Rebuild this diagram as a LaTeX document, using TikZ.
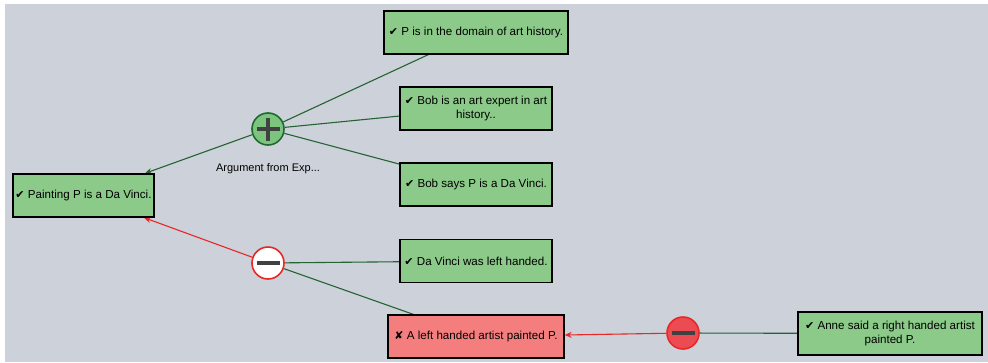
\documentclass[tikz,border=0pt]{standalone}
\usepackage{fontspec}
\setmainfont{Liberation Sans}
\newfontfamily\tickfont{DejaVu Sans}
\usetikzlibrary{arrows.meta, backgrounds}
\definecolor{bgGray}{HTML}{CDD1D9}
\definecolor{okFill}{HTML}{8BCA88}
\definecolor{badFill}{HTML}{F47E7E}
\definecolor{proLine}{HTML}{256332}
\definecolor{conLine}{HTML}{E82828}
\definecolor{proFill}{HTML}{7DC47E}
\definecolor{proBorder}{HTML}{1F6A30}
\definecolor{signGray}{HTML}{3F4143}
\definecolor{undercutFill}{HTML}{EC4B52}
\newcommand{\okmark}{{\tickfont\fontsize{11}{12}\selectfont ✔}\ }
\newcommand{\nomark}{{\tickfont\fontsize{11}{12}\selectfont ✘}\ }
\begin{document}
\begin{tikzpicture}[x=1pt, y=-1pt,
    claim/.style={draw=black, line width=1.3pt, fill=okFill, minimum height=43pt,
      inner sep=2pt, align=center, font=\fontsize{11.6}{14.5}\selectfont},
    claimno/.style={claim, fill=badFill},
    sign/.style={circle, line width=1.6pt, minimum size=32pt, inner sep=0pt},
    pro/.style={sign, draw=proBorder, fill=proFill,
      path picture={\draw[signGray, line width=3.8pt]
        ([xshift=-11.5pt]path picture bounding box.center) -- ([xshift=11.5pt]path picture bounding box.center)
        ([yshift=-11.5pt]path picture bounding box.center) -- ([yshift=11.5pt]path picture bounding box.center);}},
    con/.style={sign, draw=conLine, fill=white,
      path picture={\draw[signGray, line width=3.8pt]
        ([xshift=-11.5pt]path picture bounding box.center) -- ([xshift=11.5pt]path picture bounding box.center);}},
    undercut/.style={con, fill=undercutFill},
    prem/.style={proLine, line width=1.1pt},
    toconc/.style={line width=1.1pt, -{Stealth[length=7pt, width=6pt]}}]
  \useasboundingbox (0,0) rectangle (988,362);

  % Claims
  \node[claim, minimum width=141pt] (painting) at (83.5,195.5) {\okmark Painting P is a Da Vinci.};
  \node[claim, minimum width=184pt] (domain) at (476,32.5) {\okmark P is in the domain of art history.};
  \node[claim, minimum width=152pt] (expert) at (476,108.5) {\okmark Bob is an art expert in art\\history..};
  \node[claim, minimum width=152pt] (says) at (476,184.5) {\okmark Bob says P is a Da Vinci.};
  \node[claim, minimum width=152pt] (lefthanded) at (476,261) {\okmark Da Vinci was left handed.};
  \node[claimno, minimum width=176pt] (artist) at (476,336.5) {\nomark A left handed artist painted P.};
  \node[claim, minimum width=184pt] (anne) at (890,333.5) {\okmark Anne said a right handed artist\\painted P.};

  % Arguments
  \node[pro] (expArg) at (268,129) {};
  \node[font=\fontsize{11}{13}\selectfont] (expLabel) at (268,169) {Argument from Exp...};
  \node[con] (handArg) at (268,263) {};
  \node[undercut] (anneArg) at (683,333) {};

  % Edges
  \begin{scope}[on background layer]
    \fill[bgGray] (5,4) rectangle (988,362);
    \foreach \p/\a in {domain/expArg, expert/expArg, says/expArg, lefthanded/handArg, artist/handArg, anne/anneArg}
      \draw[prem] (\p) -- (\a);
    \draw[toconc, proLine] (expArg) -- (painting);
    \draw[toconc, conLine] (handArg) -- (painting);
    \draw[toconc, conLine] (anneArg) -- (artist);
  \end{scope}
\end{tikzpicture}
\end{document}
